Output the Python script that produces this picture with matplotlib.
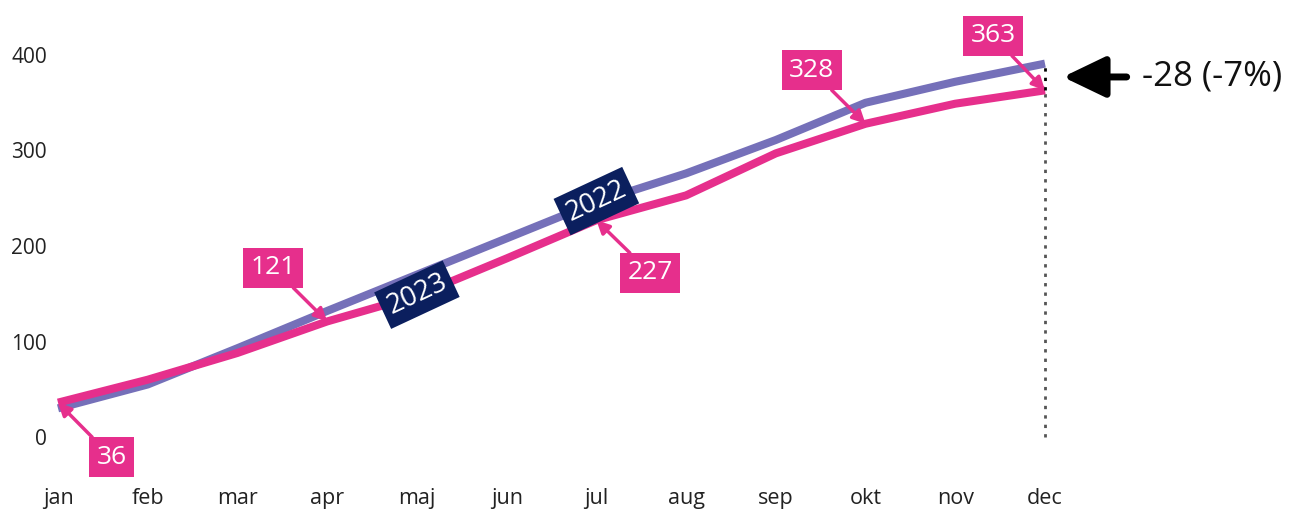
import matplotlib
matplotlib.use("Agg")
import matplotlib.pyplot as plt
import numpy as np

plt.rcParams['font.family'] = ['Open Sans', 'DejaVu Sans']

months = ["jan", "feb", "mar", "apr", "maj", "jun", "jul", "aug", "sep", "okt", "nov", "dec"]
values_2022 = [30, 55, 93, 132, 170, 208, 246, 276, 311, 350, 372, 391]
values_2023 = [36, 60, 88, 121, 148, 187, 227, 253, 297, 328, 349, 363]
label_months = ["jan", "apr", "jul", "okt", "dec"]
yticks = [0, 100, 200, 300, 400]

PURPLE = "#7570b9"
PINK = "#e62f8c"
NAVY = "#0b1f5e"

W, H = 1306, 516
fig = plt.figure(figsize=(W / 100, H / 100), dpi=100)
# axes: jan at x=58px, dec at x=1045px; y=0 at 437px, y=400 at 55px
ax = fig.add_axes([58 / W, (H - 437) / H, (1045 - 58) / W, (437 - 55) / H])
ax.set_xlim(0, 11)
ax.set_ylim(0, 400)
for s in ax.spines.values():
    s.set_visible(False)

x = np.arange(len(months))
ax.plot(x, values_2022, color=PURPLE, lw=5.8, solid_capstyle='butt', solid_joinstyle='round', clip_on=False, zorder=3)
ax.plot(x, values_2023, color=PINK, lw=5.8, solid_capstyle='butt', solid_joinstyle='round', clip_on=False, zorder=4)

ax.set_xticks(x)
ax.set_xticklabels(months, fontsize=15.5, color="#222222")
ax.set_yticks(yticks)
ax.set_yticklabels([str(v) for v in yticks], fontsize=15, color="#222222")
ax.tick_params(axis='x', length=0, pad=37)
ax.tick_params(axis='y', length=0, pad=8)

# dotted reference line at december
dec_i = len(months) - 1
ax.vlines(dec_i, 0, values_2023[-1], colors="#555555", linestyles=(0, (1.2, 2.2)), lw=2, clip_on=False, zorder=2)
ax.vlines(dec_i, values_2023[-1], values_2022[-1], colors="black", linestyles=(0, (1.2, 2.2)), lw=2, clip_on=False, zorder=5)

# value labels for 2023
label_offsets = {"jan": (0.60, -21), "apr": (2.40, 177), "jul": (6.60, 172), "okt": (8.40, 384), "dec": (10.42, 420)}
for m in label_months:
    i = months.index(m)
    v = values_2023[i]
    ax.annotate(str(v), xy=(i, v), xytext=label_offsets[m], textcoords='data',
                ha='center', va='center', fontsize=19, color='white',
                bbox=dict(boxstyle='square,pad=0.28', fc=PINK, ec='none'),
                arrowprops=dict(arrowstyle='-|>,head_length=0.4,head_width=0.2', color=PINK, lw=2.5,
                                shrinkA=0, shrinkB=0),
                annotation_clip=False, zorder=6)

# series labels
ax.text(4.0, 149, "2023", rotation=25, rotation_mode='anchor', ha='center', va='center', fontsize=20,
        color='white', bbox=dict(boxstyle='square,pad=0.22', fc=NAVY, ec='none'), zorder=7)
ax.text(6.0, 247, "2022", rotation=25, rotation_mode='anchor', ha='center', va='center', fontsize=20,
        color='white', bbox=dict(boxstyle='square,pad=0.22', fc=NAVY, ec='none'), zorder=7)

# difference arrow and text
diff = values_2023[-1] - values_2022[-1]
pct = round(diff / values_2022[-1] * 100)
ymid = (values_2023[-1] + values_2022[-1]) / 2
ax.annotate('', xy=(11.2, ymid), xytext=(11.91, ymid),
            arrowprops=dict(arrowstyle='-|>,head_length=2.6,head_width=1.25', color='black', lw=5,
                            shrinkA=0, shrinkB=0),
            annotation_clip=False)
ax.text(12.08, ymid, f"{diff} ({pct}%)", ha='left', va='center', fontsize=25, color='#111111', clip_on=False)

fig.savefig("out.png", dpi=100)
